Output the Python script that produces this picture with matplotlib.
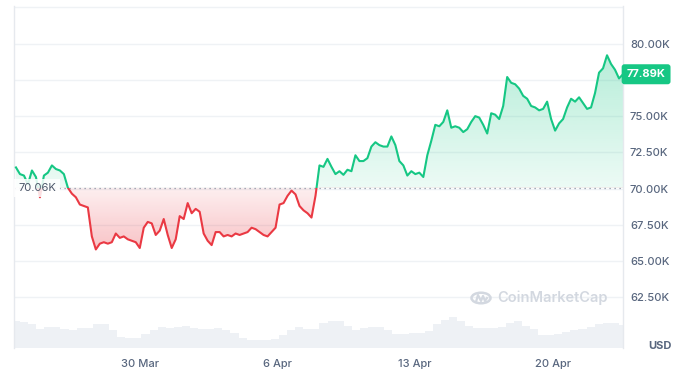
import numpy as np
import pandas as pd
import matplotlib
matplotlib.use("Agg")
import matplotlib.pyplot as plt
import matplotlib.dates as mdates
from matplotlib.patches import Rectangle, Circle
from matplotlib.lines import Line2D
from matplotlib.transforms import blended_transform_factory

# ---- data (price in thousands USD)
start = pd.Timestamp("2024-03-23 16:30")
end = pd.Timestamp("2024-04-23 14:00")

prices = [
    71.46, 71.0, 70.9, 70.3, 71.25, 70.8, 69.4, 70.9, 71.1, 71.6,
    71.35, 71.25, 71.0, 70.06, 69.65, 69.4, 68.9, 68.8, 68.7, 66.7,
    65.8, 66.2, 66.3, 66.2, 66.3, 66.9, 66.6, 66.7, 66.5, 66.4,
    66.3, 65.9, 67.3, 67.7, 67.6, 66.8, 67.1, 67.9, 66.8, 65.9,
    66.5, 68.1, 67.9, 69.0, 68.3, 68.6, 68.4, 66.9, 66.4, 66.1,
    67.0, 67.0, 66.7, 66.8, 66.7, 66.9, 66.8, 66.9, 67.0, 67.3,
    67.2, 67.0, 66.8, 66.7, 67.0, 67.3, 68.9, 69.0, 69.5, 69.86,
    69.6, 68.8, 68.5, 68.3, 68.0, 69.5, 71.6, 71.5, 72.05, 71.5,
    71.0, 71.2, 70.95, 71.3, 71.2, 72.3, 71.9, 71.9, 72.1, 72.9,
    73.2, 73.0, 72.9, 72.9, 73.6, 73.0, 71.9, 71.6, 70.9, 71.2,
    71.0, 71.1, 70.8, 72.3, 73.3, 74.4, 74.3, 74.6, 75.4, 74.2,
    74.3, 74.2, 73.9, 74.1, 74.6, 75.0, 74.9, 74.4, 73.8, 75.2,
    75.1, 74.8, 75.7, 77.7, 77.3, 77.2, 76.9, 76.4, 76.2, 75.7,
    75.6, 75.4, 75.5, 76.0, 74.8, 74.0, 74.5, 74.8, 75.6, 76.2,
    76.0, 76.3, 75.9, 75.5, 75.6, 76.6, 78.0, 78.3, 79.2, 78.6,
    78.2, 77.6, 77.89,
]

# volume, relative units
volume = [
    27, 26, 24, 19, 21, 21, 19, 18, 20, 20,
    24, 24, 18, 11, 10, 10, 14, 18, 21, 20,
    21, 22, 20, 19, 19, 20, 18, 15, 10, 8,
    8, 8, 9, 13, 18, 21, 19, 19, 25, 27,
    27, 22, 18, 20, 21, 21, 18, 14, 14, 15,
    15, 17, 24, 28, 31, 27, 22, 20, 20, 20,
    21, 25, 27, 22, 19, 13, 13, 14, 16, 18,
    19, 21, 24, 25, 25, 23,
]

baseline = 70.06
last_price = 77.89
y_ticks = [62.5, 65.0, 67.5, 70.0, 72.5, 75.0, 77.5, 80.0, 82.5]
y_labels = ["62.50K", "65.00K", "67.50K", "70.00K", "72.50K", "75.00K", "", "80.00K", ""]
x_tick_dates = ["2024-03-30", "2024-04-06", "2024-04-13", "2024-04-20"]
x_tick_labels = ["30 Mar", "6 Apr", "13 Apr", "20 Apr"]

GREEN = "#16c784"
RED = "#ea3943"
GREY = "#58667e"
WM = "#d3d8e0"

plt.rcParams["font.family"] = ["Inter", "DejaVu Sans"]

t0 = mdates.date2num(start)
t1 = mdates.date2num(end)
t = np.linspace(t0, t1, len(prices))
tv = np.linspace(t0, t1, len(volume))
p = np.array(prices)

fig = plt.figure(figsize=(6.89, 3.83), dpi=100)
ax = fig.add_axes([14 / 689, 1 - 348 / 383, 609 / 689, 342 / 383])

xlim = (t0 - 0.1, t1)
ylim = (59.0, 82.6)

# volume on a twin axis in the bottom strip
axv = ax.twinx()
axv.set_ylim(0, 342)
axv.bar(tv, volume, width=(tv[1] - tv[0]), color="#eef1f5", lw=0, zorder=0)
axv.set_yticks([])
for s in axv.spines.values():
    s.set_visible(False)
ax.set_zorder(axv.get_zorder() + 1)
ax.patch.set_visible(False)

ax.set_xlim(*xlim)
ax.set_ylim(*ylim)

# gradient fills clipped to the area between line and baseline
poly = ax.fill_between(t, p, baseline, color="none", lw=0)
clip = poly.get_paths()[0]


def grad(c, a_top, a_bot, y0, y1):
    rgb = matplotlib.colors.to_rgb(c)
    img = np.zeros((100, 1, 4))
    img[:, :, :3] = rgb
    img[:, 0, 3] = np.linspace(a_top, a_bot, 100)
    im = ax.imshow(img, aspect="auto", extent=[xlim[0], xlim[1], y0, y1],
                   origin="upper", zorder=1)
    im.set_clip_path(clip, ax.transData)


grad(GREEN, 0.33, 0.08, baseline, 80.0)
grad(RED, 0.08, 0.32, 65.5, baseline)
ax.set_xlim(*xlim)
ax.set_ylim(*ylim)

up = Rectangle((xlim[0], baseline), xlim[1] - xlim[0], 30, transform=ax.transData)
dn = Rectangle((xlim[0], baseline - 30), xlim[1] - xlim[0], 30, transform=ax.transData)
lg, = ax.plot(t, p, color=GREEN, lw=1.5, zorder=3, solid_joinstyle="round")
lg.set_clip_path(up)
lr, = ax.plot(t, p, color=RED, lw=1.5, zorder=3, solid_joinstyle="round")
lr.set_clip_path(dn)

ax.axhline(baseline, color="#8a94a6", lw=0.9, ls=(0, (1, 3)), zorder=2)
ax.text(t0 + 0.12, baseline, f"{baseline:.2f}K", ha="left", va="center",
        fontsize=8, color="#4a5568", zorder=4,
        bbox=dict(boxstyle="square,pad=0.35", fc="white", ec="none", alpha=0.85))

# axes styling
ax.grid(axis="y", color="#eff2f5", lw=1)
ax.set_axisbelow(True)
ax.set_yticks(y_ticks)
ax.set_yticklabels(y_labels)
ax.yaxis.tick_right()
ax.tick_params(axis="y", length=0, pad=5, labelsize=8, labelcolor=GREY)
ax.set_xticks([mdates.date2num(pd.Timestamp(d)) for d in x_tick_dates])
ax.set_xticklabels(x_tick_labels)
ax.tick_params(axis="x", length=0, pad=8, labelsize=8, labelcolor=GREY)
for lab in ax.get_yticklabels() + ax.get_xticklabels():
    lab.set_fontweight("medium")
for k, s in ax.spines.items():
    s.set_color("#e6e9ee")
    s.set_linewidth(1)
ax.spines["top"].set_visible(False)
ax.spines["bottom"].set_visible(False)

# last price tag
tr = blended_transform_factory(ax.transAxes, ax.transData)
ax.text(1.006, last_price, f"{last_price:.2f}K", transform=tr, ha="left",
        va="center", fontsize=8, fontweight="bold", color="white", zorder=5,
        bbox=dict(boxstyle="round,pad=0.45,rounding_size=0.25", fc=GREEN, ec="none"))

fig.text(648 / 689, 1 - 346 / 383, "USD", ha="left", va="center",
         fontsize=8, fontweight="bold", color=GREY)

# watermark
cx, cy = 481 / 689, 1 - 298 / 383
fig.text(497 / 689, cy, "CoinMarketCap", ha="left", va="center",
         fontsize=10.5, fontweight="semibold", color=WM)
fig.patches.append(Circle((cx, cy), 9.5 / 689, transform=fig.transFigure,
                          fill=False, ec=WM, lw=1.8))
wx = [-5, -3, 0, 2, 4, 6]
wy = [-4, 3, -3, 2, -3, 0]
fig.lines.append(Line2D([cx + v / 689 for v in wx], [cy + v / 383 for v in wy],
                        transform=fig.transFigure, color=WM, lw=1.6,
                        solid_joinstyle="round"))

fig.savefig("out.png", dpi=100)
